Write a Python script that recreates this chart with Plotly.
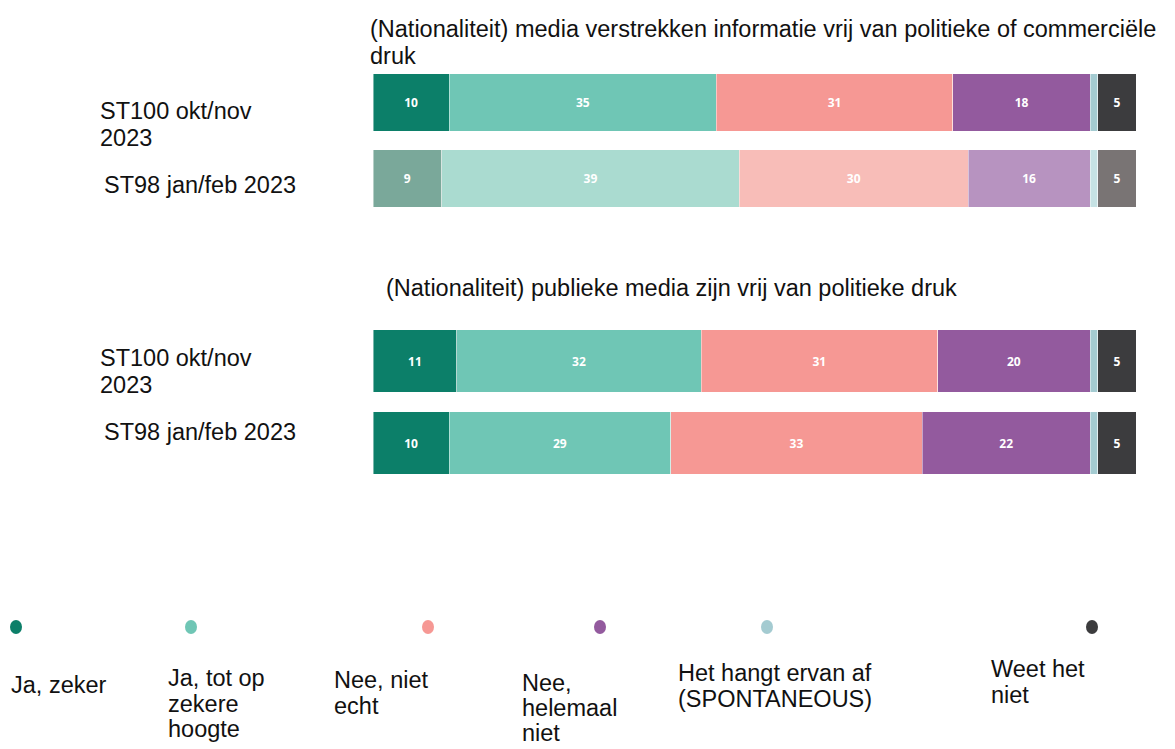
import plotly.graph_objects as go

# page body has an 8px margin, so the figure is drawn 8px smaller and shifted
OFF = 8
W, H = 1175 - OFF, 749 - OFF

# ---------------- data ----------------
categories = ["Ja, zeker", "Ja, tot op zekere hoogte", "Nee, niet echt",
              "Nee, helemaal niet", "Het hangt ervan af (SPONTANEOUS)", "Weet het niet"]
legend_lines = [["Ja, zeker"], ["Ja, tot op", "zekere", "hoogte"], ["Nee, niet", "echt"],
                ["Nee,", "helemaal", "niet"], ["Het hangt ervan af", "(SPONTANEOUS)"],
                ["Weet het", "niet"]]
row_lines = [["ST100 okt/nov", "2023"], ["ST98 jan/feb 2023"]]
title1_lines = ["(Nationaliteit) media verstrekken informatie vrij van politieke of commerciële",
                "druk"]
title2 = "(Nationaliteit) publieke media zijn vrij van politieke druk"

q1_st100 = [10, 35, 31, 18, 1, 5]
q1_st98 = [9, 39, 30, 16, 1, 5]
q2_st100 = [11, 32, 31, 20, 1, 5]
q2_st98 = [10, 29, 33, 22, 1, 5]

show_label = [True, True, True, True, False, True]

# ---------------- style ----------------
col_full = ["#0c7f69", "#6fc6b5", "#f69894", "#935a9e", "#a4cbd1", "#3c3c3e"]
col_fade = ["#7aa89a", "#aadbd0", "#f8bdb8", "#b793c0", "#c6e2e4", "#797474"]
FONT = "Liberation Sans, Arial, sans-serif"
FS = 23.5


def px(x):
    return (x - OFF) / W


def py(y):
    return 1 - (y - OFF) / H


fig = go.Figure()

questions = [
    (q1_st100, q1_st98, col_full, col_fade, "x", "y"),
    (q2_st100, q2_st98, col_full, col_full, "x2", "y2"),
]
for a, b, ca, cb, xa, ya in questions:
    for i, cat in enumerate(categories):
        txt = [str(a[i]), str(b[i])] if show_label[i] else ["", ""]
        fig.add_trace(go.Bar(
            orientation="h", x=[a[i], b[i]], y=[0, 1], name=cat,
            marker=dict(color=[ca[i], cb[i]], line=dict(color="rgba(255,255,255,0.45)", width=1)),
            text=txt, textposition="inside", insidetextanchor="middle",
            textfont=dict(family="Open Sans, sans-serif", size=12, color="white", weight="bold"),
            width=0.76, xaxis=xa, yaxis=ya, showlegend=False, hoverinfo="x+name",
        ))

xdom = [px(373), px(1136)]
fig.update_layout(
    width=W, height=H, barmode="stack",
    margin=dict(l=0, r=0, t=0, b=0),
    paper_bgcolor="white", plot_bgcolor="white",
    xaxis=dict(domain=xdom, range=[0, 100], visible=False, fixedrange=True),
    xaxis2=dict(domain=xdom, range=[0, 100], visible=False, anchor="y2", fixedrange=True),
    yaxis=dict(domain=[py(216.5), py(64.5)], range=[1.5, -0.5], visible=False),
    yaxis2=dict(domain=[py(484), py(320)], range=[1.5, -0.5], visible=False, anchor="x2"),
)

ann = []


def add_text(text, x, y, size=FS):
    ann.append(dict(text=text, x=px(x), y=py(y), xref="paper", yref="paper",
                    xanchor="left", yanchor="middle", align="left", showarrow=False,
                    font=dict(family=FONT, size=size, color="#111111")))


def add_lines(lines, x, y0, step):
    for k, t in enumerate(lines):
        add_text(t, x, y0 + k * step)


# titles
add_lines(title1_lines, 368, 29, 27)
add_text(title2, 384, 288)

# row labels
add_lines(row_lines[0], 98, 111, 26.5)
add_lines(row_lines[1], 102, 185, 26.5)
add_lines(row_lines[0], 98, 358, 26.5)
add_lines(row_lines[1], 102, 432, 26.5)

# legend
mark_x = [16, 191, 428, 600, 767, 1092]
lab_pos = [(9, 685), (166, 678), (332, 680), (520, 683), (676, 673), (989, 669)]
lab_step = [25.5, 25.5, 25.5, 25, 25.5, 25.5]
shapes = []
for i in range(len(categories)):
    shapes.append(dict(type="circle", xref="paper", yref="paper",
                       x0=px(mark_x[i] - 6), x1=px(mark_x[i] + 6),
                       y0=py(627 + 7), y1=py(627 - 7),
                       fillcolor=col_full[i], line=dict(width=0)))
    add_lines(legend_lines[i], lab_pos[i][0], lab_pos[i][1], lab_step[i])

fig.update_layout(annotations=ann, shapes=shapes)
fig.write_html("out.html")
